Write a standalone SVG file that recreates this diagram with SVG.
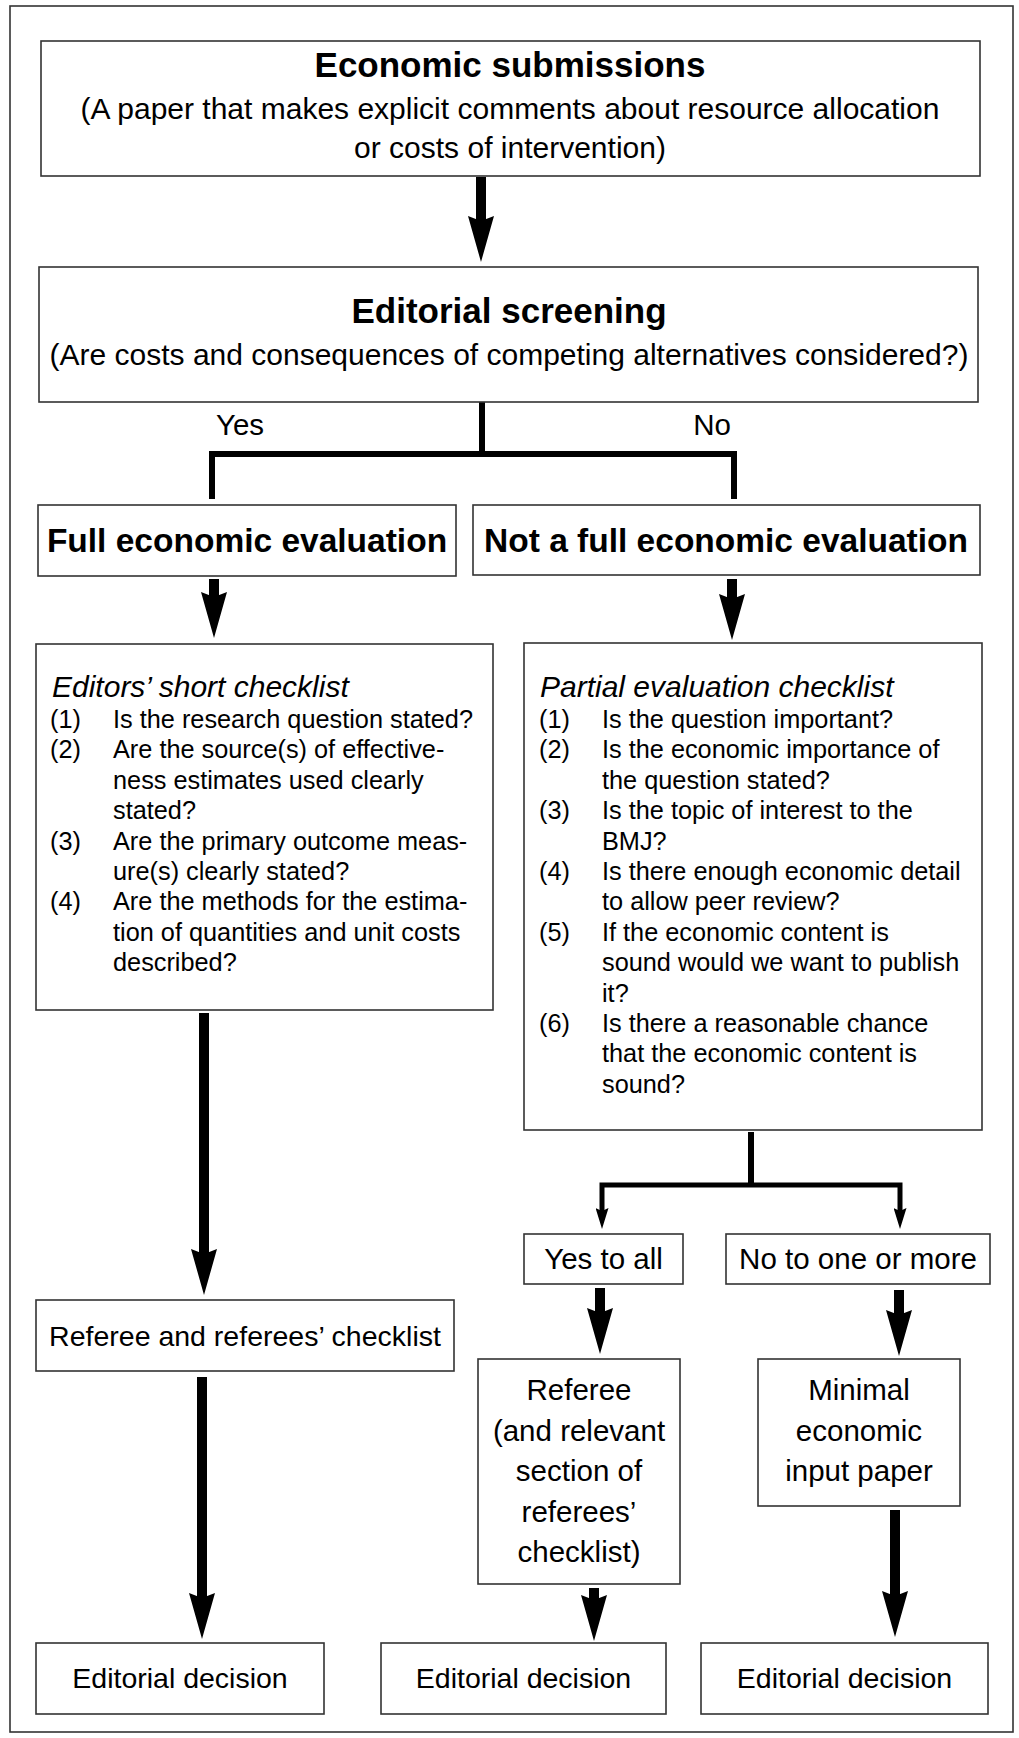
<svg xmlns="http://www.w3.org/2000/svg" width="1019" height="1738" viewBox="0 0 1019 1738">
<style>
text{font-family:"Liberation Sans",Arial,sans-serif;fill:#000}
.box{fill:#fff;stroke:#333;stroke-width:1.6}
.ttl{font-size:35px;font-weight:bold;text-anchor:middle}
.sub{font-size:30px;text-anchor:middle}
.hd{font-size:33.5px;font-weight:bold;text-anchor:middle}
.lbl{font-size:29.5px;text-anchor:middle}
.lbs{font-size:28.5px;text-anchor:middle}
.it{font-size:30px;font-style:italic}
.li{font-size:25.3px}
.big{stroke:#000;stroke-width:10;fill:none;marker-end:url(#bigHead)}
.br{stroke:#000;stroke-width:6;fill:none}
.sm{stroke:#000;stroke-width:5;fill:none;marker-end:url(#smallHead)}
</style>
<defs>
<marker id="bigHead" markerUnits="userSpaceOnUse" markerWidth="46" markerHeight="26" viewBox="0 0 46 26" refX="5" refY="13" orient="auto">
<path d="M0,0 L46,13 L0,26 L5,13 Z" fill="#000"/>
</marker>
<marker id="smallHead" markerUnits="userSpaceOnUse" markerWidth="21" markerHeight="13" viewBox="0 0 21 13" refX="3" refY="6.5" orient="auto">
<path d="M0,0 L21,6.5 L0,13 L3,6.5 Z" fill="#000"/>
</marker>
</defs>
<rect x="10" y="6" width="1003" height="1726" fill="#fff" stroke="#333" stroke-width="1.6"/>

<g id="connectors">
<line class="big" x1="481" y1="177" x2="481" y2="221"/>
<path class="br" d="M482,402 V454"/>
<path class="br" d="M212,499 V454 H734 V499"/>
<line class="big" x1="214" y1="579" x2="214" y2="597"/>
<line class="big" x1="732" y1="579" x2="732" y2="599"/>
<line class="big" x1="204" y1="1013" x2="204" y2="1254"/>
<path class="br" d="M751,1132 V1185"/>
<path class="sm" d="M751,1185 H602 V1211"/>
<path class="sm" d="M751,1185 H900 V1211"/>
<line class="big" x1="600" y1="1288" x2="600" y2="1313"/>
<line class="big" x1="899" y1="1290" x2="899" y2="1315"/>
<line class="big" x1="202" y1="1377" x2="202" y2="1598"/>
<line class="big" x1="594" y1="1588" x2="594" y2="1600"/>
<line class="big" x1="895" y1="1510" x2="895" y2="1596"/>
<text class="lbl" x="240" y="435">Yes</text>
<text class="lbl" x="712" y="435">No</text>
</g>

<g id="economic-submissions">
<rect class="box" x="41" y="41" width="939" height="135"/>
<text class="ttl" x="510" y="77">Economic submissions</text>
<text class="sub" x="510" y="119">(A paper that makes explicit comments about resource allocation</text>
<text class="sub" x="510" y="158">or costs of intervention)</text>
</g>

<g id="editorial-screening">
<rect class="box" x="39" y="267" width="939" height="135"/>
<text class="ttl" x="509" y="323">Editorial screening</text>
<text class="sub" x="509" y="365">(Are costs and consequences of competing alternatives considered?)</text>
</g>

<g id="full-evaluation">
<rect class="box" x="38" y="505" width="418" height="71"/>
<text class="hd" x="247" y="552">Full economic evaluation</text>
</g>

<g id="not-full-evaluation">
<rect class="box" x="473" y="505" width="507" height="70"/>
<text class="hd" x="726" y="552">Not a full economic evaluation</text>
</g>

<g id="editors-checklist">
<rect class="box" x="36" y="644" width="457" height="366"/>
<text class="it" x="52" y="697">Editors’ short checklist</text>
<g class="li">
<text x="50" y="728">(1)</text><text x="113" y="728">Is the research question stated?</text>
<text x="50" y="758.4">(2)</text><text x="113" y="758.4">Are the source(s) of effective-</text>
<text x="113" y="788.8">ness estimates used clearly</text>
<text x="113" y="819.2">stated?</text>
<text x="50" y="849.6">(3)</text><text x="113" y="849.6">Are the primary outcome meas-</text>
<text x="113" y="880">ure(s) clearly stated?</text>
<text x="50" y="910.4">(4)</text><text x="113" y="910.4">Are the methods for the estima-</text>
<text x="113" y="940.8">tion of quantities and unit costs</text>
<text x="113" y="971.2">described?</text>
</g>
</g>

<g id="partial-checklist">
<rect class="box" x="524" y="643" width="458" height="487"/>
<text class="it" x="540" y="697">Partial evaluation checklist</text>
<g class="li">
<text x="539" y="728">(1)</text><text x="602" y="728">Is the question important?</text>
<text x="539" y="758.4">(2)</text><text x="602" y="758.4">Is the economic importance of</text>
<text x="602" y="788.8">the question stated?</text>
<text x="539" y="819.2">(3)</text><text x="602" y="819.2">Is the topic of interest to the</text>
<text x="602" y="849.6">BMJ?</text>
<text x="539" y="880">(4)</text><text x="602" y="880">Is there enough economic detail</text>
<text x="602" y="910.4">to allow peer review?</text>
<text x="539" y="940.8">(5)</text><text x="602" y="940.8">If the economic content is</text>
<text x="602" y="971.2">sound would we want to publish</text>
<text x="602" y="1001.6">it?</text>
<text x="539" y="1032">(6)</text><text x="602" y="1032">Is there a reasonable chance</text>
<text x="602" y="1062.4">that the economic content is</text>
<text x="602" y="1092.8">sound?</text>
</g>
</g>

<g id="referee-checklist">
<rect class="box" x="36" y="1300" width="418" height="71"/>
<text class="lbs" x="245" y="1346">Referee and referees’ checklist</text>
</g>

<g id="yes-to-all">
<rect class="box" x="524" y="1234" width="159" height="50"/>
<text class="lbl" x="603.5" y="1269">Yes to all</text>
</g>

<g id="no-to-one">
<rect class="box" x="726" y="1234" width="264" height="50"/>
<text class="lbl" x="858" y="1269">No to one or more</text>
</g>

<g id="referee-section">
<rect class="box" x="478" y="1359" width="202" height="225"/>
<text class="lbl" x="579" y="1400">Referee</text>
<text class="lbl" x="579" y="1440.5">(and relevant</text>
<text class="lbl" x="579" y="1481">section of</text>
<text class="lbl" x="579" y="1521.5">referees’</text>
<text class="lbl" x="579" y="1562">checklist)</text>
</g>

<g id="minimal-input">
<rect class="box" x="758" y="1359" width="202" height="147"/>
<text class="lbl" x="859" y="1400">Minimal</text>
<text class="lbl" x="859" y="1440.5">economic</text>
<text class="lbl" x="859" y="1481">input paper</text>
</g>

<g id="decision-1">
<rect class="box" x="36" y="1643" width="288" height="71"/>
<text class="lbs" x="180" y="1688">Editorial decision</text>
</g>

<g id="decision-2">
<rect class="box" x="381" y="1643" width="285" height="71"/>
<text class="lbs" x="523.5" y="1688">Editorial decision</text>
</g>

<g id="decision-3">
<rect class="box" x="701" y="1643" width="287" height="71"/>
<text class="lbs" x="844.5" y="1688">Editorial decision</text>
</g>
</svg>
